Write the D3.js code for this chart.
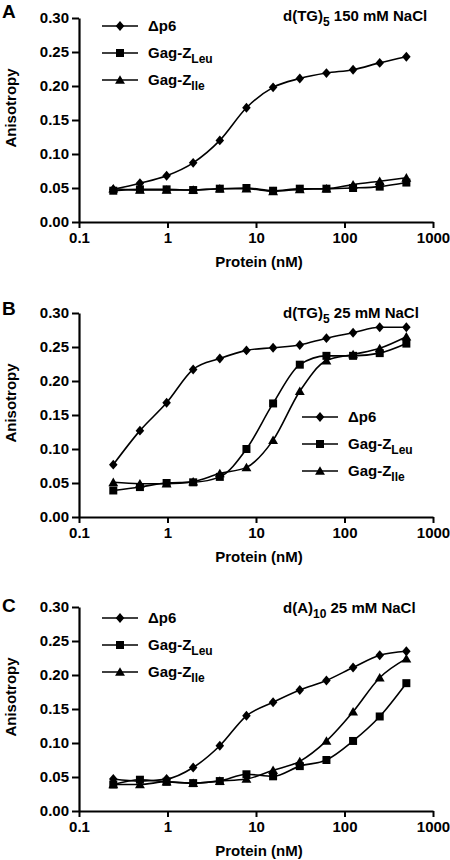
<!DOCTYPE html>
<html><head><meta charset="utf-8">
<script src="https://cdn.jsdelivr.net/npm/d3@7"></script>
<style>
html,body{margin:0;padding:0;background:#fff;}
text{font-family:"Liberation Sans",Arial,Helvetica,sans-serif;font-weight:bold;fill:#000;}
</style></head><body>
<svg id="chart" width="450" height="860"></svg>
<script>
// ---- data ----
const concentrations = [0.244, 0.488, 0.977, 1.95, 3.9, 7.8, 15.6, 31.25, 62.5, 125, 250, 500];
const seriesNames = ["Δp6", "Gag-Z", "Gag-Z"];
const seriesSubs = ["", "Leu", "Ile"];
const yTicks = [0, 0.05, 0.10, 0.15, 0.20, 0.25, 0.30];
const xTicks = [0.1, 1, 10, 100, 1000];
const panelLabels = ["A", "B", "C"];
const titleMain = ["d(TG)", "d(TG)", "d(A)"];
const titleSub = ["5", "5", "10"];
const titleRest = [" 150 mM NaCl", " 25 mM NaCl", " 25 mM NaCl"];

const dp6_A = [0.048, 0.057, 0.068, 0.087, 0.120, 0.168, 0.198, 0.211, 0.219, 0.224, 0.234, 0.243];
const leu_A = [0.046, 0.048, 0.048, 0.047, 0.049, 0.050, 0.046, 0.049, 0.049, 0.050, 0.052, 0.058];
const ile_A = [0.049, 0.047, 0.047, 0.047, 0.049, 0.049, 0.045, 0.048, 0.049, 0.055, 0.060, 0.065];

const dp6_B = [0.077, 0.127, 0.168, 0.217, 0.233, 0.245, 0.249, 0.253, 0.263, 0.271, 0.279, 0.279];
const leu_B = [0.039, 0.044, 0.050, 0.051, 0.059, 0.100, 0.167, 0.224, 0.237, 0.237, 0.241, 0.255];
const ile_B = [0.051, 0.049, 0.049, 0.052, 0.064, 0.073, 0.113, 0.185, 0.230, 0.239, 0.248, 0.265];

const dp6_C = [0.047, 0.044, 0.047, 0.064, 0.096, 0.140, 0.160, 0.178, 0.192, 0.211, 0.229, 0.235];
const leu_C = [0.039, 0.046, 0.043, 0.041, 0.044, 0.054, 0.051, 0.066, 0.075, 0.103, 0.139, 0.188];
const ile_C = [0.039, 0.039, 0.043, 0.041, 0.044, 0.047, 0.060, 0.073, 0.103, 0.146, 0.196, 0.224];

const panelData = [[dp6_A, leu_A, ile_A], [dp6_B, leu_B, ile_B], [dp6_C, leu_C, ile_C]];

// ---- layout ----
const panels = [
  {top: 18, legend: {x: 102, y: 26}, title: {x: 283, y: 21}, label: {y: 18}},
  {top: 313, legend: {x: 302, y: 417}, title: {x: 283, y: 318}, label: {y: 315}},
  {top: 607, legend: {x: 102, y: 618}, title: {x: 283, y: 613}, label: {y: 612}}
];
const H = 204, X0 = 79, X1 = 433;

const svg = d3.select("#chart");

const diamond = {draw(ctx, size){ const r = Math.sqrt(size)/2; ctx.moveTo(0,-r*1.1); ctx.lineTo(r*0.95,0); ctx.lineTo(0,r*1.1); ctx.lineTo(-r*0.95,0); ctx.closePath(); }};
const square = {draw(ctx, size){ const r = Math.sqrt(size)/2; ctx.rect(-r,-r,2*r,2*r); }};
const triangle = {draw(ctx, size){ const r = Math.sqrt(size)/2; ctx.moveTo(0,-r*1.05); ctx.lineTo(r*1.1,r*0.85); ctx.lineTo(-r*1.1,r*0.85); ctx.closePath(); }};
const symbols = [d3.symbol(diamond, 81), d3.symbol(square, 64), d3.symbol(triangle, 81)];

panels.forEach((p, pi) => {
  const g = svg.append("g");
  const x = d3.scaleLog().domain([0.1, 1000]).range([X0, X1]);
  const y = d3.scaleLinear().domain([0, 0.30]).range([p.top + H, p.top]);

  const yAxis = d3.axisLeft(y).tickValues(yTicks).tickFormat(d3.format(".2f")).tickSize(7).tickSizeOuter(0).tickPadding(3);
  const ya = g.append("g").attr("transform", `translate(${X0},0)`).call(yAxis);
  const xAxis = d3.axisBottom(x).tickValues(xTicks).tickFormat(d => String(d)).tickSize(6).tickSizeOuter(0).tickPadding(4);
  const xa = g.append("g").attr("transform", `translate(0,${p.top + H})`).call(xAxis);
  [ya, xa].forEach(a => {
    a.selectAll("path.domain").attr("stroke", "#000").attr("stroke-width", 2.2);
    a.selectAll(".tick line").attr("stroke", "#000").attr("stroke-width", 2);
    a.selectAll(".tick text").style("font-size", "15px").style("font-family", "Liberation Sans, Arial, sans-serif").style("font-weight", "bold").attr("fill", "#000");
  });

  // axis titles
  g.append("text").attr("x", (X0 + X1) / 2 + 3).attr("y", p.top + H + 45)
    .attr("text-anchor", "middle").style("font-size", "15px").text("Protein (nM)");
  g.append("text").attr("transform", `translate(16,${p.top + H / 2 - 12}) rotate(-90)`)
    .attr("text-anchor", "middle").style("font-size", "15px").text("Anisotropy");

  // panel label
  g.append("text").attr("x", 2).attr("y", p.label.y).style("font-size", "19px").text(panelLabels[pi]);

  // title
  const t = g.append("text").attr("x", p.title.x).attr("y", p.title.y).style("font-size", "15px");
  t.append("tspan").text(titleMain[pi]);
  t.append("tspan").attr("dy", 5).style("font-size", "12px").text(titleSub[pi]);
  t.append("tspan").attr("dy", -5).text(titleRest[pi]);

  // series
  const line = d3.line().x((d, i) => x(concentrations[i])).y(d => y(d)).curve(d3.curveMonotoneX);
  panelData[pi].forEach((vals, si) => {
    g.append("path").datum(vals).attr("d", line).attr("fill", "none").attr("stroke", "#000").attr("stroke-width", 1.6);
  });
  panelData[pi].forEach((vals, si) => {
    g.selectAll(null).data(vals).enter().append("path")
      .attr("transform", (d, i) => `translate(${x(concentrations[i])},${y(d)})`)
      .attr("d", symbols[si]).attr("fill", "#000");
  });

  // legend
  seriesNames.forEach((name, si) => {
    const ly = p.legend.y + si * 27;
    g.append("line").attr("x1", p.legend.x).attr("x2", p.legend.x + 36).attr("y1", ly).attr("y2", ly)
      .attr("stroke", "#000").attr("stroke-width", 1.6);
    g.append("path").attr("transform", `translate(${p.legend.x + 18},${ly})`).attr("d", symbols[si]).attr("fill", "#000");
    const lt = g.append("text").attr("x", p.legend.x + 46).attr("y", ly + 5).style("font-size", "15px");
    lt.append("tspan").text(name);
    if (seriesSubs[si]) lt.append("tspan").attr("dy", 5).style("font-size", "12px").text(seriesSubs[si]);
  });
});
</script>
</body></html>
